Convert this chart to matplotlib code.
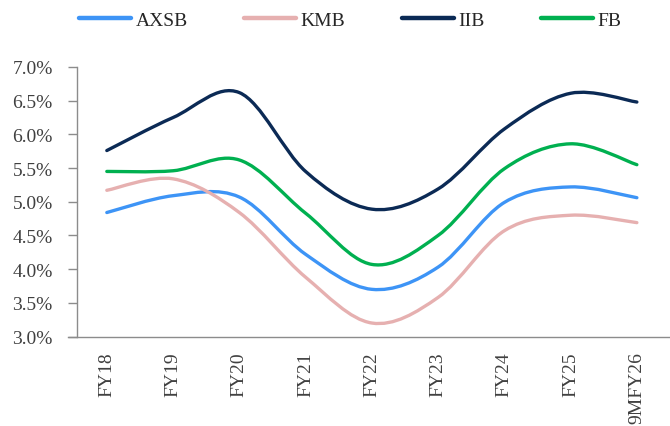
import numpy as np
import matplotlib
matplotlib.use("Agg")
import matplotlib.pyplot as plt
from matplotlib.path import Path
from matplotlib.patches import PathPatch
from matplotlib.lines import Line2D
from matplotlib.ticker import FuncFormatter

categories = ["FY18", "FY19", "FY20", "FY21", "FY22", "FY23", "FY24", "FY25", "9MFY26"]
axsb = [4.84, 5.09, 5.07, 4.22, 3.70, 4.03, 4.99, 5.22, 5.06]
kmb = [5.17, 5.34, 4.84, 3.88, 3.20, 3.58, 4.57, 4.80, 4.69]
iib = [5.76, 6.25, 6.62, 5.45, 4.89, 5.19, 6.08, 6.61, 6.48]
fb = [5.45, 5.46, 5.62, 4.83, 4.07, 4.50, 5.49, 5.86, 5.55]

series = [
    ("AXSB", axsb, "#3d94f6"),
    ("KMB", kmb, "#e6b0b0"),
    ("IIB", iib, "#0b2a55"),
    ("FB", fb, "#00b050"),
]

plt.rcParams["font.family"] = ["Liberation Serif", "DejaVu Serif"]

fig = plt.figure(figsize=(6.7, 4.27), dpi=100)
ax = fig.add_axes([77 / 670, 1 - 337.5 / 427, 1 - 77 / 670, (337.5 - 68) / 427])


def smooth_path(xs, ys):
    """Cubic Bezier path through the points (Excel-style smoothed line)."""
    pts = np.column_stack([xs, ys]).astype(float)
    n = len(pts)
    verts = [pts[0]]
    codes = [Path.MOVETO]
    for i in range(n - 1):
        p0 = pts[i - 1] if i > 0 else pts[i]
        p1 = pts[i]
        p2 = pts[i + 1]
        p3 = pts[i + 2] if i + 2 < n else pts[i + 1]
        c1 = p1 + (p2 - p0) / 6.0
        c2 = p2 - (p3 - p1) / 6.0
        verts += [c1, c2, p2]
        codes += [Path.CURVE4] * 3
    return Path(verts, codes)


x = np.arange(len(categories))
for name, vals, color in series:
    patch = PathPatch(smooth_path(x, vals), facecolor="none", edgecolor=color,
                      lw=2.4, capstyle="round", joinstyle="round")
    ax.add_patch(patch)

ax.set_xlim(-0.45, len(categories) - 0.5)
ax.set_ylim(3.0, 7.0)
ax.set_yticks(np.arange(3.0, 7.01, 0.5))
ax.yaxis.set_major_formatter(FuncFormatter(lambda v, _: f"{v:.1f}%"))
ax.set_xticks(x)
ax.set_xticklabels(categories, rotation=90, va="top", ha="center")

for s in ("top", "right"):
    ax.spines[s].set_visible(False)
for s in ("left", "bottom"):
    ax.spines[s].set_color("#8c8c8c")
    ax.spines[s].set_linewidth(1.0)
ax.spines["bottom"].set_bounds(-0.45 - 9 / 66.3, len(categories) - 0.5)
ax.spines["bottom"].set_clip_on(False)

ax.tick_params(axis="y", length=6.5, width=1.0, color="#8c8c8c", pad=11,
               labelsize=14, labelcolor="#404040")
ax.tick_params(axis="x", length=0, pad=10.5, labelsize=14, labelcolor="#404040")

handles = [Line2D([0], [0], color=c, lw=3.2, solid_capstyle="round") for _, _, c in series]
fig.legend(handles, [n for n, _, _ in series], loc="center",
           bbox_to_anchor=(350 / 670, 1 - 21 / 427), ncol=4, frameon=False,
           fontsize=14, handlelength=2.7, handletextpad=0.2, columnspacing=2.9,
           labelcolor="#262626")

fig.savefig("out.png", dpi=100)
